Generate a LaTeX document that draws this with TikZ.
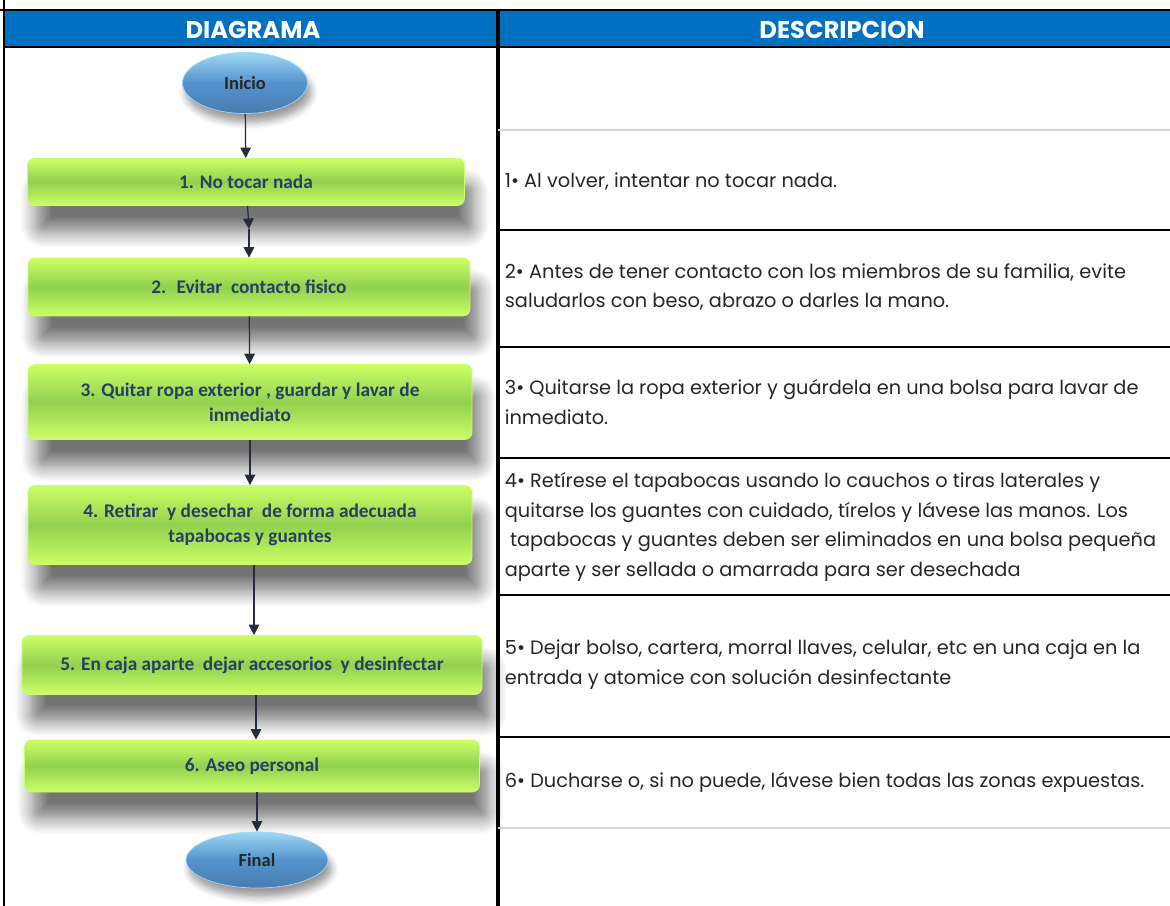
\documentclass[tikz,border=0pt]{standalone}
\usepackage{fontspec}
\setmainfont{Poppins}
\newfontfamily\calib{Carlito}
\usetikzlibrary{shapes.geometric,shadows.blur,arrows.meta}

\definecolor{headblue}{RGB}{0,112,192}
\definecolor{boxgreen}{RGB}{146,208,80}
\definecolor{boxlight}{RGB}{204,255,102}
\definecolor{boxtext}{RGB}{37,64,97}
\definecolor{ovalblue}{RGB}{84,146,206}
\definecolor{ovallight}{RGB}{160,215,245}
\definecolor{arrowgray}{RGB}{38,45,58}
\definecolor{rulegray}{RGB}{212,212,212}

\tikzset{
    stepbox/.style={rounded corners=4pt, top color=boxlight, bottom color=boxlight,
        middle color=boxgreen, draw=boxlight, align=center, text=boxtext,
        font=\calib\bfseries\fontsize{11}{14}\selectfont,
        blur shadow={shadow xshift=5pt, shadow yshift=-15pt, shadow blur steps=10,
            shadow blur radius=9pt, shadow opacity=55}},
    oval/.style={ellipse, top color=ovallight, bottom color=ovalblue!85!black,
        middle color=ovalblue, draw=ovallight, text=black!85,
        font=\calib\bfseries\fontsize{10.5}{12}\selectfont,
        blur shadow={shadow xshift=2pt, shadow yshift=-5pt, shadow blur steps=6,
            shadow blur radius=4pt, shadow opacity=40}},
    desc/.style={anchor=west, align=left, text=black!85, inner sep=2pt,
        font=\fontsize{11}{17}\selectfont},
    head/.style={text=white, font=\bfseries\fontsize{13.8}{15}\selectfont},
    flow/.style={->, draw=arrowgray, line width=.7pt}
}

\begin{document}
\begin{tikzpicture}[x=0.02cm, y=-0.02cm, >={Triangle[length=6pt, width=6pt]}]

    \useasboundingbox (0,0) rectangle (1170,906);

    % frame and header
    \fill[headblue] (4,11) rectangle (1170,47);
    \draw[line width=1.7pt] (0,10) -- (1170,10);
    \draw[line width=1.7pt] (4,47) -- (1170,47);
    \draw[line width=1.1pt] (4,0) -- (4,906);
    \draw[line width=2.2pt] (498,10) -- (498,906);
    \node[head] (hdiag) at (253,30) {DIAGRAMA};
    \node[head] (hdesc) at (842,30) {DESCRIPCION};

    % row rules
    \foreach \y in {230,347,458,595,737}{
        \draw[line width=1.6pt] (498,\y) -- (1170,\y);
    }
    \foreach \y in {130,828}{
        \draw[rulegray, line width=1.1pt] (498,\y) -- (1170,\y);
    }

    % flow
    \node[oval, minimum width=2.5cm, minimum height=1.22cm] (inicio) at (245,83) {Inicio};
    \node[stepbox, minimum width=8.74cm, minimum height=0.94cm] (s1) at (246,182) {1. No tocar nada};
    \node[stepbox, minimum width=8.84cm, minimum height=1.16cm] (s2) at (249,287) {2.~ Evitar~ contacto fisico};
    \node[stepbox, minimum width=8.88cm, minimum height=1.5cm] (s3) at (250,402) {3. Quitar ropa exterior , guardar y lavar de\\inmediato};
    \node[stepbox, minimum width=8.88cm, minimum height=1.58cm] (s4) at (250,525) {4. Retirar~ y desechar~ de forma adecuada\\tapabocas y guantes};
    \node[stepbox, minimum width=9.2cm, minimum height=1.18cm] (s5) at (252,665) {5. En caja aparte~ dejar accesorios~ y desinfectar};
    \node[stepbox, minimum width=9.1cm, minimum height=1.04cm] (s6) at (252,766) {6. Aseo personal};
    \node[oval, minimum width=2.84cm, minimum height=1.12cm] (final) at (257,860) {Final};

    \coordinate (mid1) at (249,229);

    \draw[flow] (inicio) -- (s1);
    \draw[flow] (s1) -- (mid1);
    \draw[flow] (mid1) -- (s2);
    \draw[flow] (s2) -- (s3);
    \draw[flow] (s3) -- (s4);
    \draw[flow] (s4.south -| 254,0) -- (s5.north -| 254,0);
    \draw[flow] (s5.south -| 256,0) -- (s6.north -| 256,0);
    \draw[flow] (s6.south -| 257,0) -- (final);

    % descriptions
    \node[desc] (d1) at (501,182) {1\textbullet{} Al volver, intentar no tocar nada.};
    \node[desc] (d2) at (501,287) {2\textbullet{} Antes de tener contacto con los miembros de su familia, evite\\saludarlos con beso, abrazo o darles la mano.};
    \node[desc] (d3) at (501,402) {3\textbullet{} Quitarse la ropa exterior y guárdela en una bolsa para lavar de\\inmediato.};
    \node[desc] (d4) at (501,527) {4\textbullet{} Retírese el tapabocas usando lo cauchos o tiras laterales y\\quitarse los guantes con cuidado, tírelos y lávese las manos. Los\\\ tapabocas y guantes deben ser eliminados en una bolsa pequeña\\aparte y ser sellada o amarrada para ser desechada};
    \node[desc] (d5) at (501,665) {5\textbullet{} Dejar bolso, cartera, morral llaves, celular, etc en una caja en la\\entrada y atomice con solución desinfectante};
    \node[desc] (d6) at (501,782) {6\textbullet{} Ducharse o, si no puede, lávese bien todas las zonas expuestas.};

\end{tikzpicture}
\end{document}
